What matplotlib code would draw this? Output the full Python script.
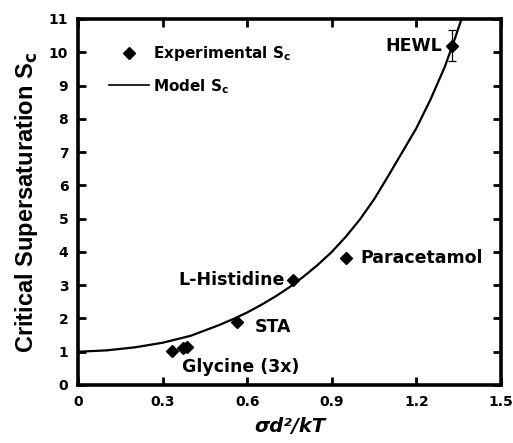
import matplotlib
matplotlib.use("Agg")
import matplotlib.pyplot as plt
from matplotlib.lines import Line2D

plt.rcParams['font.family'] = 'DejaVu Sans'
plt.rcParams['font.weight'] = 'bold'
plt.rcParams['mathtext.default'] = 'bf'

# experimental points (sigma d^2 / kT, S_c)
exp_names = ["Glycine", "Glycine", "Glycine", "STA", "L-Histidine", "Paracetamol", "HEWL"]
exp_x = [0.333, 0.374, 0.387, 0.564, 0.764, 0.950, 1.327]
exp_s = [1.03, 1.12, 1.14, 1.88, 3.15, 3.82, 10.20]
exp_err = [0, 0, 0, 0, 0, 0, 0.46]

# model curve
model_x = [0, 0.1, 0.2, 0.3, 0.4, 0.5, 0.55, 0.6, 0.65, 0.7, 0.75, 0.8, 0.85, 0.9, 0.95,
           1.0, 1.05, 1.1, 1.15, 1.2, 1.25, 1.3, 1.33, 1.36]
model_s = [1.00, 1.04, 1.13, 1.27, 1.48, 1.80, 1.98, 2.18, 2.41, 2.66, 2.94, 3.26, 3.61, 4.00, 4.46,
           4.98, 5.58, 6.28, 7.00, 7.72, 8.58, 9.55, 10.25, 11.0]

xticks = [0, 0.3, 0.6, 0.9, 1.2, 1.5]
xticklabels = ["0", "0.3", "0.6", "0.9", "1.2", "1.5"]
yticks = list(range(0, 12))

fig = plt.figure(figsize=(5.13, 4.43), dpi=100)
ax = fig.add_axes([78/513, 1 - 385/443, 423/513, 366/443])

ax.plot(model_x, model_s, color='black', lw=1.6, zorder=2)
ax.plot(exp_x, exp_s, linestyle='none', marker='D', color='black', markersize=6.5, zorder=3)
ax.errorbar(exp_x[-1:], exp_s[-1:], yerr=exp_err[-1:], fmt='none', ecolor='black',
            elinewidth=0.9, capsize=3, capthick=0.9, zorder=3)

# point labels
lab = dict(fontsize=12.5, fontweight='bold', va='center')
ax.text(1.291, 10.2, "HEWL", ha='right', **lab)
ax.text(1.002, 3.82, "Paracetamol", ha='left', **lab)
ax.text(0.734, 3.16, "L-Histidine", ha='right', **lab)
ax.text(0.625, 1.75, "STA", ha='left', **lab)
ax.text(0.368, 0.55, "Glycine (3x)", ha='left', **lab)

ax.set_xlim(0, 1.5)
ax.set_ylim(0, 11)
ax.set_xticks(xticks)
ax.set_xticklabels(xticklabels)
ax.set_yticks(yticks)
ax.tick_params(direction='in', length=6, width=2, top=True, right=True,
               labelsize=10, pad=7)
for lbl in ax.get_xticklabels() + ax.get_yticklabels():
    lbl.set_fontweight('bold')
for sp in ax.spines.values():
    sp.set_linewidth(2.6)

ax.set_xlabel("σd²/kT", fontsize=14, fontstyle='italic', fontweight='bold', labelpad=6)
ax.set_ylabel("Critical Supersaturation S$_c$", fontsize=17, fontweight='bold',
              family='Liberation Sans', labelpad=6)

handles = [Line2D([], [], linestyle='none', marker='D', color='black', markersize=6),
           Line2D([], [], color='black', lw=1.2)]
ax.legend(handles, ["Experimental S$_c$", "Model S$_c$"], loc='upper left',
          bbox_to_anchor=(0.041, 0.969), frameon=False, fontsize=11,
          handlelength=2.6, handletextpad=0.3, labelspacing=0.9)

fig.savefig("out.png", dpi=100)
